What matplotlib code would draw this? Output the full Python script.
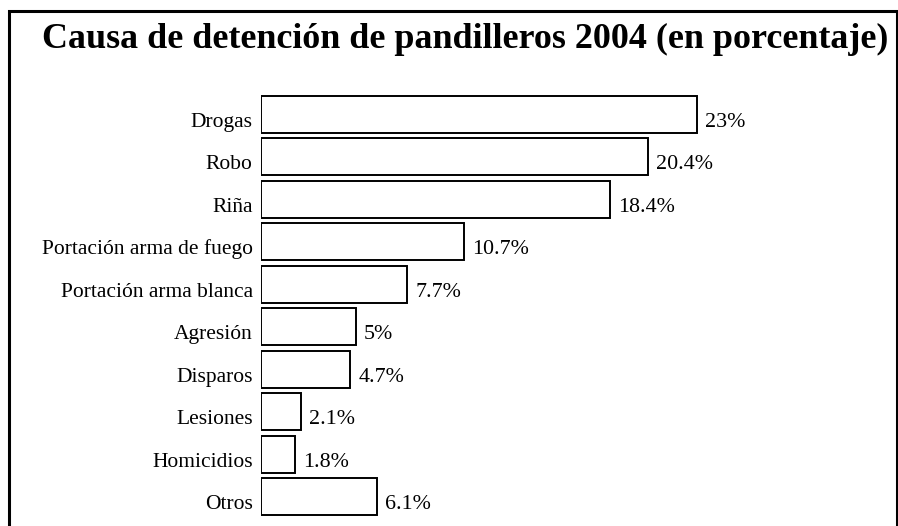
import matplotlib.pyplot as plt
from matplotlib.patches import Rectangle

# datos
causas = ['Drogas', 'Robo', 'Riña', 'Portación arma de fuego', 'Portación arma blanca',
          'Agresión', 'Disparos', 'Lesiones', 'Homicidios', 'Otros']
porcentajes = [23, 20.4, 18.4, 10.7, 7.7, 5, 4.7, 2.1, 1.8, 6.1]
etiquetas = ['23%', '20.4%', '18.4%', '10.7%', '7.7%', '5%', '4.7%', '2.1%', '1.8%', '6.1%']
titulo = 'Causa de detención de pandilleros 2004 (en porcentaje)'

plt.rcParams['font.family'] = ['Liberation Serif', 'DejaVu Serif']

W, H = 898, 526
fig = plt.figure(figsize=(W / 100, H / 100), dpi=100)
fig.patch.set_facecolor('white')

# marco negro alrededor (se corta abajo)
fig.patches.append(Rectangle((8.5 / W, -0.05), (896.5 - 8.5) / W, 1 - 11 / H + 0.05,
                             transform=fig.transFigure, fill=False,
                             edgecolor='black', linewidth=2.2, clip_on=False))

fig.text(465 / W, 1 - 48 / H, titulo, ha='center', va='baseline',
         fontsize=25.9, fontweight='bold')

top_px, bot_px = 93.0, 518.0
ax = fig.add_axes([261 / W, 1 - bot_px / H, (893 - 261) / W, (bot_px - top_px) / H])
pos = list(range(len(causas)))
ax.barh(pos, porcentajes, height=0.86, color='white', edgecolor='black', linewidth=1.4)
ax.set_xlim(0, 632 / 18.95)
ax.set_ylim(len(causas) - 0.5, -0.5)
ax.axis('off')

for y, v, t, c in zip(pos, porcentajes, etiquetas, causas):
    ax.annotate(t, (v, y), xytext=(6, -9), textcoords='offset points',
                ha='left', va='baseline', fontsize=15.8)
    ax.annotate(c, (0, y), xytext=(-6, -9), textcoords='offset points',
                ha='right', va='baseline', fontsize=15.5)

fig.savefig('out.png', dpi=100)
